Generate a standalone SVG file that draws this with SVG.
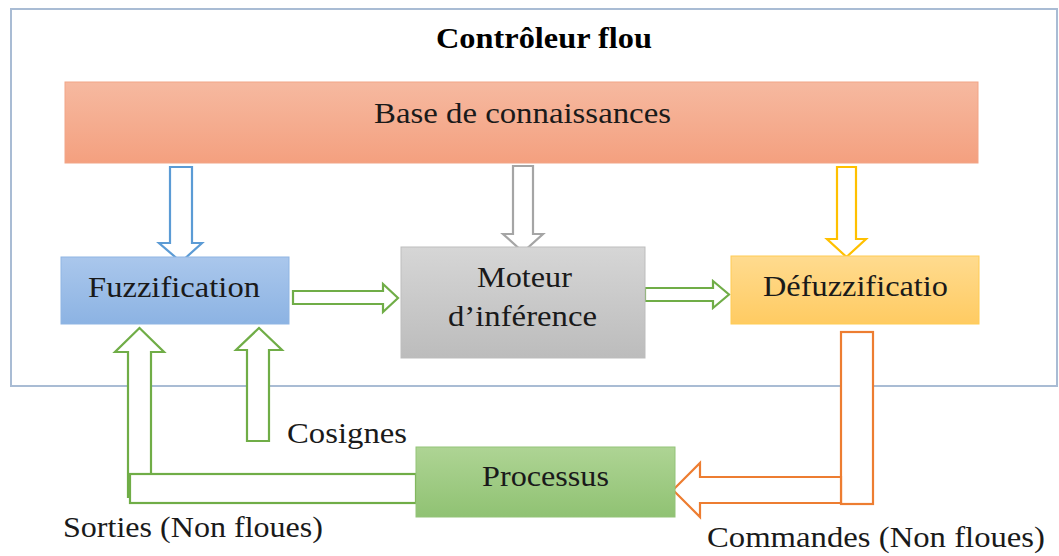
<svg xmlns="http://www.w3.org/2000/svg" width="1059" height="556" viewBox="0 0 1059 556">
  <defs>
    <linearGradient id="gOrange" x1="0" y1="0" x2="0" y2="1">
      <stop offset="0" stop-color="#f6b9a0"/>
      <stop offset="1" stop-color="#f4a07f"/>
    </linearGradient>
    <linearGradient id="gBlue" x1="0" y1="0" x2="0" y2="1">
      <stop offset="0" stop-color="#aac7ec"/>
      <stop offset="1" stop-color="#8cb3e3"/>
    </linearGradient>
    <linearGradient id="gGray" x1="0" y1="0" x2="0" y2="1">
      <stop offset="0" stop-color="#d6d6d6"/>
      <stop offset="1" stop-color="#bcbcbc"/>
    </linearGradient>
    <linearGradient id="gYellow" x1="0" y1="0" x2="0" y2="1">
      <stop offset="0" stop-color="#ffdb8f"/>
      <stop offset="1" stop-color="#ffcb62"/>
    </linearGradient>
    <linearGradient id="gGreen" x1="0" y1="0" x2="0" y2="1">
      <stop offset="0" stop-color="#aed494"/>
      <stop offset="1" stop-color="#90c273"/>
    </linearGradient>
  </defs>
  <style>
    text { font-family: "Liberation Serif", "Times New Roman", serif; font-size: 29px; fill: #1a1a1a; }
    .title { font-weight: bold; fill: #000; }
    .arrow { fill: #ffffff; stroke-width: 2.2; stroke-linejoin: miter; }
    .green { stroke: #70ad47; }
    .blue { stroke: #5b9bd5; }
    .gray { stroke: #a5a5a5; }
    .yellow { stroke: #ffc000; }
    .orange { stroke: #ed7d31; }
  </style>

  <rect width="1059" height="556" fill="#ffffff"/>

  <!-- controller frame -->
  <g id="frame">
    <rect x="11" y="9" width="1046" height="377" fill="none" stroke="#a9bcd4" stroke-width="2"/>
    <text class="title" x="436" y="48" textLength="216" lengthAdjust="spacingAndGlyphs">Contrôleur flou</text>
  </g>

  <g id="base">
    <rect x="65" y="82" width="913" height="81" fill="url(#gOrange)" stroke="#f2a587" stroke-width="1"/>
    <text x="374" y="123" textLength="297" lengthAdjust="spacingAndGlyphs">Base de connaissances</text>
  </g>

  <!-- connectors (block arrows) -->
  <g id="connectors">
    <polygon class="arrow blue" points="170,167 192,167 192,243 202,243 181,262 159,243 170,243"/>
    <polygon class="arrow gray" points="513,166 533,166 533,234 543,234 523,252 503,234 513,234"/>
    <polygon class="arrow yellow" points="837,167 856,167 856,239 866,239 846.5,257 827,239 837,239"/>
    <polygon class="arrow green" points="293,291 383,291 383,284 398,298 383,312 383,304 293,304"/>
    <polygon class="arrow green" points="645,288 713,288 713,281 729,294.5 713,308 713,301 645,301"/>
    <polygon class="arrow green" points="128,497 128,352 115,352 139.5,328 164,352 151,352 151,497"/>
    <rect class="arrow green" x="130" y="474" width="286" height="29"/>
    <polygon class="arrow green" points="247,441 247,350 236,350 259,328 282,350 269,350 269,441"/>
    <rect class="arrow orange" x="841" y="332" width="32" height="172"/>
    <polygon class="arrow orange" points="841,477 700,477 700,463 673,490 700,517 700,503 841,503"/>
  </g>

  <g id="fuzzification">
    <rect x="61" y="257" width="228" height="67" fill="url(#gBlue)" stroke="#8fb5e3" stroke-width="1"/>
    <text x="88" y="297" textLength="172" lengthAdjust="spacingAndGlyphs">Fuzzification</text>
  </g>

  <g id="moteur">
    <rect x="401" y="247" width="244" height="111" fill="url(#gGray)" stroke="#bdbdbd" stroke-width="1"/>
    <text x="477" y="287" textLength="95" lengthAdjust="spacingAndGlyphs">Moteur</text>
    <text x="448" y="326" textLength="149" lengthAdjust="spacingAndGlyphs">d’inférence</text>
  </g>

  <g id="defuzzification">
    <rect x="731" y="256" width="248" height="68" fill="url(#gYellow)" stroke="#ffcc55" stroke-width="1"/>
    <text x="763" y="296" textLength="185" lengthAdjust="spacingAndGlyphs">Défuzzificatio</text>
  </g>

  <g id="processus">
    <rect x="416" y="447" width="259" height="70" fill="url(#gGreen)" stroke="#93c378" stroke-width="1"/>
    <text x="482" y="486" textLength="127" lengthAdjust="spacingAndGlyphs">Processus</text>
  </g>

  <g id="labels">
    <text x="287" y="443" textLength="120" lengthAdjust="spacingAndGlyphs">Cosignes</text>
    <text x="63" y="537" textLength="260" lengthAdjust="spacingAndGlyphs">Sorties (Non floues)</text>
    <text x="707" y="547" textLength="338" lengthAdjust="spacingAndGlyphs">Commandes (Non floues)</text>
  </g>
</svg>
